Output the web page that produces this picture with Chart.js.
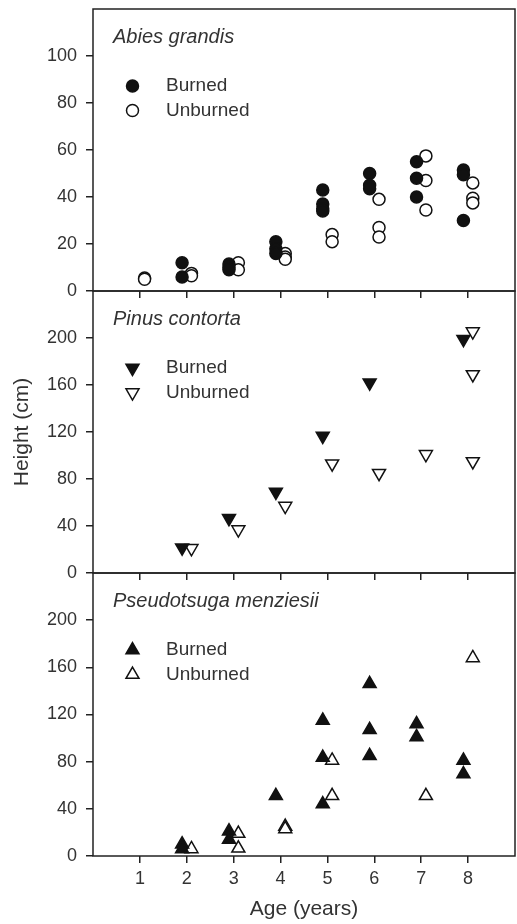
<!DOCTYPE html>
<html>
<head>
<meta charset="utf-8">
<script src="https://cdn.jsdelivr.net/npm/chart.js@4"></script>
<style>
  body { margin: 0; background: #fff; }
  #wrap { position: relative; width: 517px; height: 924px; }
  canvas { position: absolute; left: 0; }
</style>
</head>
<body>
<div id="wrap">
  <canvas id="abies" width="517" height="300" style="top:0px"></canvas>
  <canvas id="pinus" width="517" height="300" style="top:282px"></canvas>
  <canvas id="pseudo" width="517" height="360" style="top:564px"></canvas>
</div>
<script>
// tick labels
const ageTicks = [1, 2, 3, 4, 5, 6, 7, 8];
const abiesTicks = [0, 20, 40, 60, 80, 100];
const conifTicks = [0, 40, 80, 120, 160, 200];

// Abies grandis
const abiesBurnedAge = [2, 2, 3, 3, 3, 4, 4, 4, 5, 5, 5, 5, 6, 6, 6, 7, 7, 7, 8, 8, 8];
const abiesBurnedHeight = [12, 6, 11.5, 10, 9, 21, 18, 16, 43, 37, 35, 34, 50, 45, 43.5, 55, 48, 40, 51.5, 49.5, 30];
const abiesUnburnedAge = [1, 1, 2, 2, 3, 3, 4, 4, 4, 5, 5, 6, 6, 6, 7, 7, 7, 8, 8, 8];
const abiesUnburnedHeight = [5.5, 5, 7.5, 6.5, 12, 9, 16, 14.5, 13.5, 24, 21, 39, 27, 23, 57.5, 47, 34.5, 46, 39.5, 37.5];

// Pinus contorta
const pinusBurnedAge = [2, 3, 4, 5, 6, 8];
const pinusBurnedHeight = [21.5, 46.5, 69, 116.5, 162, 199];
const pinusUnburnedAge = [2, 3, 4, 5, 6, 7, 8, 8, 8];
const pinusUnburnedHeight = [21, 37, 57, 93, 85, 101, 205.5, 169, 95];

// Pseudotsuga menziesii
const pseudoBurnedAge = [2, 2, 3, 3, 4, 5, 5, 5, 6, 6, 6, 7, 7, 8, 8];
const pseudoBurnedHeight = [10, 6, 21, 14, 51, 115, 83.5, 44, 146, 107, 85, 112, 101, 81, 69.5];
const pseudoUnburnedAge = [2, 3, 3, 4, 4, 5, 5, 7, 8];
const pseudoUnburnedHeight = [6, 19, 6.5, 25, 23, 81, 51, 51, 168];

const family = '"Liberation Sans", Arial, Helvetica, sans-serif';
const textColor = '#333';
const lineColor = '#222';
const markColor = '#111';
// burned points sit a little left of the age, unburned a little right
const burnedShift = -0.1;
const unburnedShift = 0.1;

Chart.defaults.font.family = family;

function points(ages, heights, shift) {
  return ages.map((a, i) => ({ x: a + shift, y: heights[i] }));
}

function series(label, ages, heights, filled, style, radius, rotation) {
  return {
    label: label,
    data: points(ages, heights, filled ? burnedShift : unburnedShift),
    pointStyle: style,
    pointRadius: radius,
    rotation: rotation,
    backgroundColor: filled ? markColor : '#fff',
    borderColor: markColor,
    borderWidth: 1.5,
    showLine: false
  };
}

function drawMarker(ctx, ds, x, y) {
  const opts = { pointStyle: ds.pointStyle, rotation: ds.rotation || 0, radius: ds.pointRadius, borderWidth: ds.borderWidth };
  ctx.fillStyle = ds.backgroundColor;
  ctx.strokeStyle = ds.borderColor;
  ctx.lineWidth = ds.borderWidth;
  if (Chart.helpers && Chart.helpers.drawPoint) {
    Chart.helpers.drawPoint(ctx, opts, x, y);
    return;
  }
  ctx.beginPath();
  if (ds.pointStyle === 'circle') {
    ctx.arc(x, y, ds.pointRadius, 0, Math.PI * 2);
  } else {
    let rad = (ds.rotation || 0) * Math.PI / 180;
    for (let k = 0; k < 3; k++) {
      const px = x + Math.sin(rad) * ds.pointRadius, py = y - Math.cos(rad) * ds.pointRadius;
      if (k === 0) ctx.moveTo(px, py); else ctx.lineTo(px, py);
      rad += 2 * Math.PI / 3;
    }
    ctx.closePath();
  }
  ctx.fill();
  ctx.stroke();
}

// frame, italic species name and the legend inside each panel
const panelDecor = {
  id: 'panelDecor',
  beforeDatasetsDraw(chart, args, opts) {
    const a = chart.chartArea, ctx = chart.ctx;
    ctx.save();
    ctx.strokeStyle = lineColor;
    ctx.lineWidth = 1.5;
    ctx.strokeRect(a.left, a.top, a.right - a.left, a.bottom - a.top);

    ctx.fillStyle = textColor;
    ctx.textBaseline = 'middle';
    ctx.font = 'italic 20px ' + family;
    ctx.fillText(opts.title, a.left + 20, a.top + 28);

    chart.data.datasets.forEach((ds, i) => {
      const y = a.top + 77 + i * 24.5;
      drawMarker(ctx, ds, a.left + 39.5, y);
      ctx.fillStyle = textColor;
      ctx.font = '19px ' + family;
      ctx.fillText(ds.label, a.left + 73, y);
    });
    ctx.restore();
  }
};

function makeChart(id, title, datasets, yMax, yTicks, bottomPanel, yTitle, xHeight) {
  return new Chart(document.getElementById(id), {
    type: 'scatter',
    data: { datasets: datasets },
    options: {
      responsive: false,
      animation: false,
      devicePixelRatio: 1,
      events: [],
      layout: { autoPadding: false, padding: { top: 9, right: 2, left: 0, bottom: 0 } },
      plugins: {
        legend: { display: false },
        tooltip: { enabled: false },
        panelDecor: { title: title }
      },
      scales: {
        x: {
          type: 'linear',
          min: 0,
          max: 9,
          afterBuildTicks: ax => { ax.ticks = ageTicks.map(v => ({ value: v })); },
          afterFit: ax => { ax.height = xHeight; ax.paddingLeft = 0; ax.paddingRight = 0; },
          border: { display: false },
          grid: { drawOnChartArea: false, drawTicks: true, tickLength: 7, color: lineColor, lineWidth: 1.5 },
          ticks: { display: bottomPanel, padding: 5, color: textColor, font: { size: 18 } },
          title: { display: bottomPanel, text: 'Age (years)', color: textColor, font: { size: 21 }, padding: { top: 0, bottom: 2 } }
        },
        y: {
          min: 0,
          max: yMax,
          afterBuildTicks: ax => { ax.ticks = yTicks.map(v => ({ value: v })); },
          afterFit: ax => { ax.width = 93; ax.paddingTop = 0; ax.paddingBottom = 0; },
          border: { display: false },
          grid: { drawOnChartArea: false, drawTicks: true, tickLength: 7, color: lineColor, lineWidth: 1.5 },
          ticks: { padding: 9, color: textColor, font: { size: 18 } },
          title: { display: yTitle, text: 'Height (cm)', color: textColor, font: { size: 21 }, padding: { top: 10, bottom: 0 } }
        }
      }
    },
    plugins: [panelDecor]
  });
}

makeChart('abies', 'Abies grandis', [
  series('Burned', abiesBurnedAge, abiesBurnedHeight, true, 'circle', 6, 0),
  series('Unburned', abiesUnburnedAge, abiesUnburnedHeight, false, 'circle', 6, 0)
], 120, abiesTicks, false, false, 9);

makeChart('pinus', 'Pinus contorta', [
  series('Burned', pinusBurnedAge, pinusBurnedHeight, true, 'triangle', 7.5, 180),
  series('Unburned', pinusUnburnedAge, pinusUnburnedHeight, false, 'triangle', 7.5, 180)
], 240, conifTicks, false, true, 9);

makeChart('pseudo', 'Pseudotsuga menziesii', [
  series('Burned', pseudoBurnedAge, pseudoBurnedHeight, true, 'triangle', 7.5, 0),
  series('Unburned', pseudoUnburnedAge, pseudoUnburnedHeight, false, 'triangle', 7.5, 0)
], 240, conifTicks, true, false, 68);
</script>
</body>
</html>
